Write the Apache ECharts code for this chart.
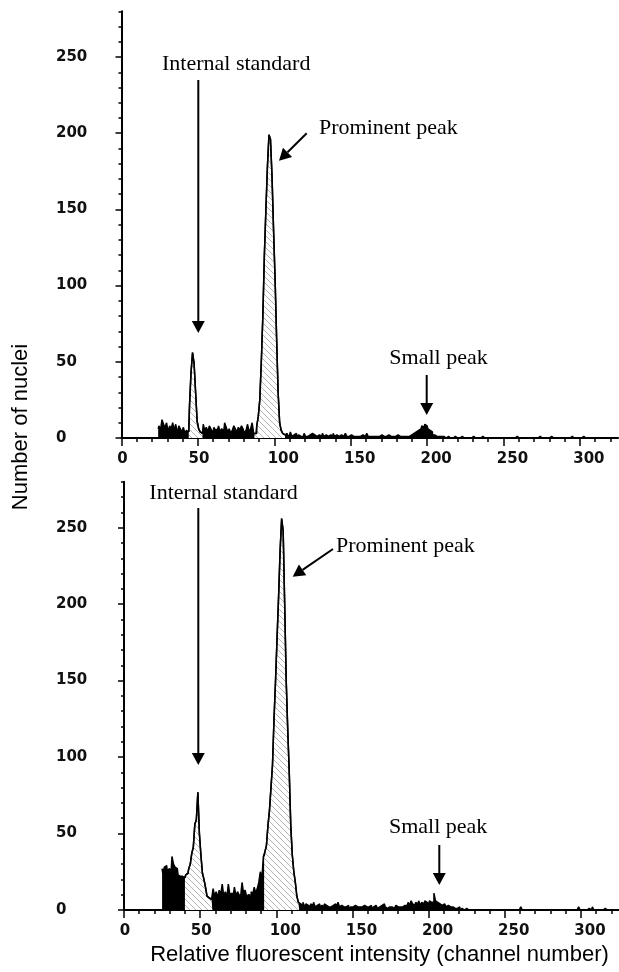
<!DOCTYPE html>
<html><head><meta charset="utf-8">
<script src="https://cdn.jsdelivr.net/npm/echarts@6/dist/echarts.min.js"></script>
<style>html,body{margin:0;padding:0;background:#fff;}#c{width:619px;height:972px;}</style>
</head><body><div id="c"></div>
<script>
// ---------------- DATA ----------------
const xTickLabels = [0, 50, 100, 150, 200, 250, 300];
const yTickLabels = [0, 50, 100, 150, 200, 250];

// Top histogram: counts per channel, starting at channel 24
const topStart = 24;
const topCounts = [
  // 24-43
  6, 8, 5, 12, 9, 7, 10, 4, 8, 6, 10, 5, 9, 3, 8, 6, 4, 7, 3, 5,
  // 44-53 internal standard
  4, 21, 43, 56, 49, 30, 11, 6, 4, 3,
  // 54-86
  9, 5, 7, 4, 8, 6, 3, 7, 5, 6, 8, 4, 6, 5, 10, 7, 4, 6, 3, 5, 8, 6, 4, 7, 5, 8, 6, 3, 5, 9, 4, 6, 10,
  // 87-107 prominent peak
  3, 3, 8, 14, 25, 50, 80, 120, 150, 178, 199, 196, 172, 137, 105, 66, 30, 10, 5, 3, 2,
  // 108-187
  3, 1, 2, 4, 1, 2, 3, 1, 2, 1,
  2, 1, 3, 1, 1, 2, 1, 3, 2, 1,
  1, 2, 1, 1, 3, 1, 2, 1, 1, 2,
  1, 3, 1, 2, 1, 1, 2, 1, 1, 3,
  1, 1, 2, 1, 1, 1, 2, 1, 1, 1,
  2, 1, 1, 3, 1, 1, 1, 2, 1, 1,
  1, 1, 2, 1, 1, 1, 1, 2, 1, 1,
  1, 1, 1, 2, 1, 1, 1, 1, 2, 1,
  // 188-208 small peak
  1, 2, 2, 3, 3, 4, 5, 5, 6, 8, 7, 9, 8, 6, 5, 4, 2, 2, 1, 2, 1,
  // 209-320
  1, 0, 1, 0, 0, 1, 0, 0, 0, 1,
  0, 0, 0, 0, 1, 0, 0, 0, 0, 0,
  0, 1, 0, 0, 0, 0, 0, 1, 0, 0,
  0, 0, 0, 0, 1, 0, 0, 0, 0, 0,
  0, 0, 0, 1, 0, 0, 0, 0, 0, 0,
  1, 0, 0, 0, 0, 0, 0, 0, 1, 0,
  0, 0, 0, 0, 0, 1, 0, 0, 0, 0,
  0, 0, 1, 0, 0, 0, 0, 0, 0, 1,
  0, 0, 0, 0, 0, 0, 1, 0, 0, 0,
  0, 0, 0, 1, 0, 0, 0, 0, 0, 0,
  1, 0, 0, 0, 0, 0, 1, 0, 0, 0,
  0, 0
];
const topGates = [[44, 53], [87, 107]];

// Bottom histogram: counts per channel, starting at channel 25
const botStart = 25;
const botCounts = [
  // 25-39
  27, 24, 28, 29, 25, 27, 26, 35, 30, 28, 27, 23, 22, 22, 21,
  // 40-58 internal standard
  21, 23, 24, 27, 30, 37, 41, 56, 59, 77, 50, 36, 24, 20, 15, 9, 8, 7, 8,
  // 59-91
  14, 9, 12, 8, 13, 10, 17, 9, 12, 8, 17, 10, 11, 8, 15, 9, 12, 10, 8, 18, 11, 13, 9, 10, 9, 12, 10, 15, 11, 14, 18, 25, 20,
  // 92-115 prominent peak
  35, 38, 42, 55, 65, 80, 95, 125, 150, 178, 205, 235, 256, 248, 200, 150, 118, 90, 55, 36, 25, 18, 9, 5,
  // 116-186
  4, 3, 5, 2, 4, 3, 2, 4, 3, 5,
  2, 3, 4, 2, 3, 2, 4, 3, 2, 3,
  2, 3, 2, 4, 2, 5, 2, 3, 2, 1,
  2, 3, 1, 2, 2, 1, 3, 2, 1, 2,
  2, 1, 3, 2, 1, 2, 3, 1, 2, 3,
  2, 1, 2, 3, 2, 4, 2, 1, 2, 3,
  2, 1, 2, 3, 2, 2, 1, 2, 3, 2,
  3,
  // 187-214 small peak
  5, 3, 6, 4, 3, 5, 4, 6, 3, 5,
  4, 6, 5, 4, 6, 5, 5, 11, 6, 5,
  4, 5, 3, 4, 3, 2, 3, 2,
  // 215-320
  1, 2, 1, 0, 1, 2, 0, 1, 0, 0,
  1, 0, 0, 0, 0, 0, 0, 0, 0, 0,
  0, 0, 0, 0, 0, 0, 0, 0, 0, 0,
  0, 0, 0, 0, 0, 0, 0, 0, 0, 0,
  0, 0, 0, 0, 0, 0, 2, 0, 0, 0,
  0, 0, 0, 0, 0, 0, 0, 0, 0, 0,
  0, 0, 0, 0, 0, 0, 0, 0, 0, 0,
  0, 0, 0, 0, 0, 0, 0, 0, 0, 0,
  0, 0, 0, 0, 2, 0, 0, 0, 0, 0,
  1, 0, 0, 2, 0, 0, 0, 0, 0, 0,
  0, 1, 0, 0, 0, 0
];
const botGates = [[40, 58], [92, 115]];

// ---------------- BUILD ----------------
const hatch = document.createElement('canvas');
hatch.width = 6; hatch.height = 6;
(function () {
  const ctx = hatch.getContext('2d');
  ctx.fillStyle = '#ffffff'; ctx.fillRect(0, 0, 6, 6);
  ctx.strokeStyle = '#b5b5b5'; ctx.lineWidth = 1;
  ctx.beginPath();
  ctx.moveTo(-6, -6); ctx.lineTo(12, 12);
  ctx.moveTo(-6, 0); ctx.lineTo(6, 12);
  ctx.moveTo(0, -6); ctx.lineTo(12, 6);
  ctx.stroke();
})();

function pairs(start, counts) { return counts.map((v, i) => [start + i, v]); }
function gatePairs(start, counts, g) {
  const out = [];
  counts.forEach((v, i) => { const c = start + i; if (c >= g[0] && c <= g[1]) out.push([c, v]); });
  return out;
}

const FONT_TICK = 'DejaVu Sans';
const TICK_SIZE = 15;
const labelRich = {
  w: { padding: [0, 0, 0, 18], fontFamily: FONT_TICK, fontSize: TICK_SIZE, fontWeight: 'bold', color: '#111' },
  n: { padding: [0, 0, 0, 2], fontFamily: FONT_TICK, fontSize: TICK_SIZE, fontWeight: 'bold', color: '#111' }
};
const minorVals = []; for (let v = 0; v <= 320; v += 10) minorVals.push(v);
const minorValsY = []; for (let v = 0; v <= 280; v += 10) minorValsY.push(v);

function xAxes(gi) {
  return [
    { type: 'value', gridIndex: gi, position: 'bottom', min: 0, max: 325, interval: 50,
      axisLine: { onZero: false, lineStyle: { color: '#000', width: 2 } },
      axisTick: { length: 8, customValues: xTickLabels, lineStyle: { color: '#000', width: 1.5 } },
      axisLabel: { customValues: xTickLabels, margin: 14,
        formatter: v => (v >= 100 ? '{w|' + v + '}' : '{n|' + v + '}'), rich: labelRich },
      splitLine: { show: false } },
    { type: 'value', gridIndex: gi, position: 'bottom', min: 0, max: 325, interval: 10,
      axisLine: { show: false, onZero: false },
      axisTick: { length: 4, customValues: minorVals, lineStyle: { color: '#000', width: 1.5 } },
      axisLabel: { show: false }, splitLine: { show: false } }
  ];
}
function yAxes(gi, margin) {
  return [
    { type: 'value', gridIndex: gi, position: 'left', min: 0, max: 280, interval: 50,
      axisLine: { show: true, onZero: false, lineStyle: { color: '#000', width: 2 } },
      axisTick: { show: true, length: 6, customValues: yTickLabels, lineStyle: { color: '#000', width: 1.5 } },
      axisLabel: { customValues: yTickLabels, align: 'left', margin: margin,
        fontFamily: FONT_TICK, fontSize: TICK_SIZE, fontWeight: 'bold', color: '#111' },
      splitLine: { show: false } },
    { type: 'value', gridIndex: gi, position: 'left', min: 0, max: 280, interval: 10,
      axisLine: { show: false, onZero: false },
      axisTick: { show: true, length: 3, customValues: minorValsY, lineStyle: { color: '#000', width: 1.5 } },
      axisLabel: { show: false }, splitLine: { show: false } }
  ];
}

function histSeries(xi, yi, start, counts, gates) {
  const s = [{
    type: 'line', xAxisIndex: xi, yAxisIndex: yi, data: pairs(start, counts), step: 'middle',
    symbol: 'none', silent: true, lineStyle: { color: '#000', width: 1.5 },
    areaStyle: { color: '#000', opacity: 1 }
  }];
  gates.forEach(g => s.push({
    type: 'line', xAxisIndex: xi, yAxisIndex: yi, data: gatePairs(start, counts, g), step: 'middle',
    symbol: 'none', silent: true, lineStyle: { color: '#000', width: 1.5 },
    areaStyle: { color: { image: hatch, repeat: 'repeat' }, opacity: 1 }
  }));
  return s;
}

// ---------------- ANNOTATIONS ----------------
const SERIF = '22px "Liberation Serif", "Times New Roman", serif';
function label(text, x, y) {
  return { type: 'text', x: x, y: y, style: { text: text, font: SERIF, fill: '#000', textAlign: 'left', textVerticalAlign: 'middle' } };
}
function arrow(x1, y1, x2, y2) {
  const L = 12, W = 6.5;
  const dx = x2 - x1, dy = y2 - y1, d = Math.hypot(dx, dy), ux = dx / d, uy = dy / d;
  const bx = x2 - ux * L, by = y2 - uy * L;
  return [
    { type: 'line', shape: { x1: x1, y1: y1, x2: bx, y2: by }, style: { stroke: '#000', lineWidth: 2 } },
    { type: 'polygon', shape: { points: [[x2, y2], [bx - uy * W, by + ux * W], [bx + uy * W, by - ux * W]] }, style: { fill: '#000' } }
  ];
}

const graphic = [].concat(
  label('Internal standard', 162, 64),
  arrow(198.3, 80, 198.3, 333),
  label('Prominent peak', 319, 128),
  arrow(306.7, 133.3, 279, 160.7),
  label('Small peak', 389.3, 358),
  arrow(426.7, 375, 426.7, 415),
  label('Internal standard', 149.3, 493),
  arrow(198.3, 508, 198.3, 765),
  label('Prominent peak', 336, 546),
  arrow(333, 549, 292.7, 576.7),
  label('Small peak', 389, 827),
  arrow(439.3, 845, 439.3, 885),
  { type: 'text', x: 21, y: 427, rotation: Math.PI / 2,
    style: { text: 'Number of nuclei', font: '22px "Liberation Sans", Arial, sans-serif', fill: '#000', textAlign: 'center', textVerticalAlign: 'middle' } },
  { type: 'text', x: 379.5, y: 955,
    style: { text: 'Relative fluorescent intensity (channel number)', font: '22px "Liberation Sans", Arial, sans-serif', fill: '#000', textAlign: 'center', textVerticalAlign: 'middle' } }
);

const chart = echarts.init(document.getElementById('c'), null, { renderer: 'canvas' });
chart.setOption({
  animation: false,
  backgroundColor: '#ffffff',
  grid: [
    { left: 121.5, top: 11.3, width: 496.6, height: 426.7 },
    { left: 124, top: 481.8, width: 497.3, height: 428.2 }
  ],
  xAxis: xAxes(0).concat(xAxes(1)),
  yAxis: yAxes(0, 65.5).concat(yAxes(1, 68)),
  series: histSeries(0, 0, topStart, topCounts, topGates).concat(histSeries(2, 2, botStart, botCounts, botGates)),
  graphic: graphic
});
</script></body></html>
